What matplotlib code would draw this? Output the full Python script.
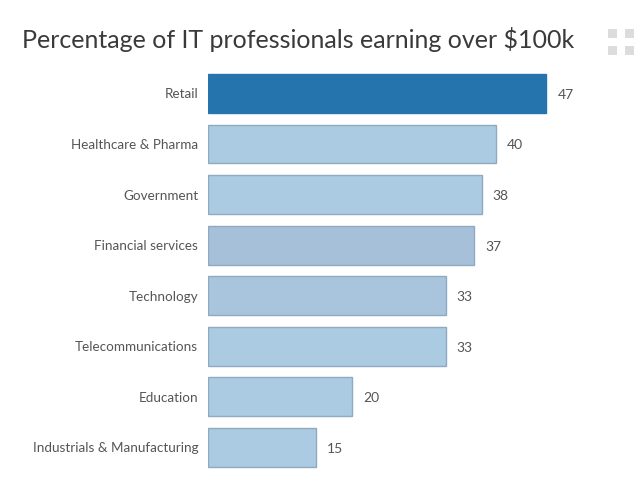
import matplotlib
matplotlib.use("Agg")
import matplotlib.pyplot as plt
from matplotlib.patches import Rectangle

categories = ["Retail", "Healthcare & Pharma", "Government", "Financial services",
              "Technology", "Telecommunications", "Education", "Industrials & Manufacturing"]
values = [47, 40, 38, 37, 33, 33, 20, 15]
fills = ["#2574ae", "#abcbe3", "#abcbe3", "#a6c0da", "#a9c5de", "#abcbe3", "#abcbe3", "#abcbe3"]
edges = ["#2574ae", "#8fa9c0", "#8fa9c0", "#8fa9c0", "#8fa9c0", "#8fa9c0", "#8fa9c0", "#8fa9c0"]

plt.rcParams['font.family'] = ['Lato', 'DejaVu Sans']

fig = plt.figure(figsize=(6.4, 4.8), dpi=100)
ax = fig.add_axes([208 / 640, 1 - 476 / 480, 432 / 640, 404 / 480])

y = range(len(categories))
ax.barh(y, values, height=0.77, color=fills, edgecolor=edges, linewidth=1)
for i, v in zip(y, values):
    ax.annotate(str(v), (v, i), xytext=(8, -1), textcoords="offset points",
                va="center", ha="left", fontsize=10, color="#555555")

ax.set_yticks(list(y))
ax.set_yticklabels(categories, fontsize=9.7, color="#555555")
ax.tick_params(axis="y", length=0, pad=7)
ax.set_xticks([])
ax.set_xlim(0, 432 / 7.2)
ax.set_ylim(7.567, -0.425)
for s in ax.spines.values():
    s.set_visible(False)

fig.text(22 / 640, 1 - 40 / 480, "Percentage of IT professionals earning over $100k",
         fontsize=18, color="#3a3a3a", va="center", ha="left")

# expand icon top right
for px in (608, 625):
    for py in (29, 46):
        fig.add_artist(Rectangle((px / 640, 1 - (py + 9) / 480), 9 / 640, 9 / 480,
                                 transform=fig.transFigure, color="#dcdcdc", lw=0))

fig.savefig("out.png", dpi=100)
